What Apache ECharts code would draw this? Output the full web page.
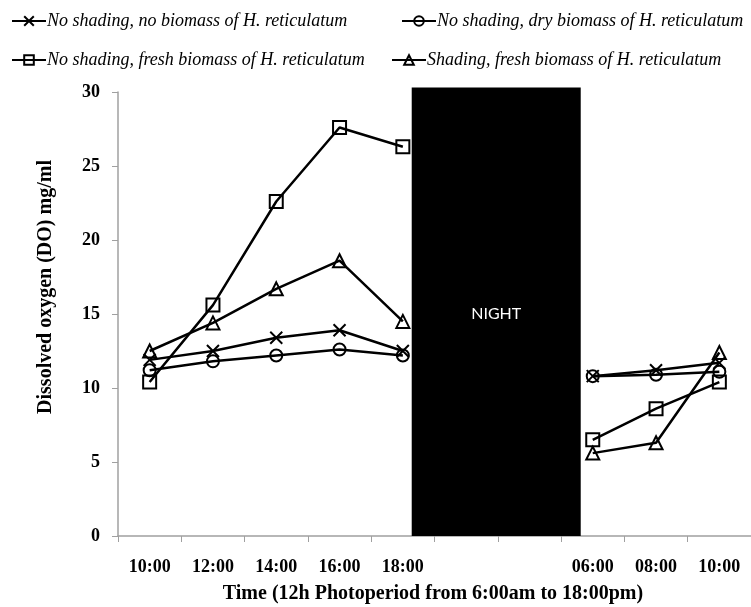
<!DOCTYPE html>
<html>
<head>
<meta charset="utf-8">
<script src="https://cdn.jsdelivr.net/npm/echarts@6/dist/echarts.min.js"></script>
<style>
html,body{margin:0;padding:0;background:#fff;}
#main{width:751px;height:607px;}
</style>
</head>
<body>
<div id="main"></div>
<script>
// x categories, blanks are the night gap
var times = ['10:00', '12:00', '14:00', '16:00', '18:00', '', '', '06:00', '08:00', '10:00'];
var noShadeNoBio = [11.9, 12.5, 13.4, 13.9, 12.5, null, null, 10.8, 11.2, 11.7];
var noShadeDryBio = [11.2, 11.8, 12.2, 12.6, 12.2, null, null, 10.8, 10.9, 11.1];
var noShadeFreshBio = [10.4, 15.6, 22.6, 27.6, 26.3, null, null, 6.5, 8.6, 10.4];
var shadeFreshBio = [12.5, 14.4, 16.7, 18.6, 14.5, null, null, 5.6, 6.3, 12.4];
var seriesNames = [
    'No shading, no biomass of H. reticulatum',
    'No shading, dry biomass of H. reticulatum',
    'No shading, fresh biomass of H. reticulatum',
    'Shading, fresh biomass of H. reticulatum'
];
// night block, in category index units [start, end, top]
var nightBlock = [[4.14, 6.81, 30.3]];

var serif = '"Liberation Serif", "Times New Roman", serif';

function lineSeries(name, data, symbol, size) {
    return {
        name: name,
        type: 'line',
        data: data,
        connectNulls: false,
        symbol: symbol,
        symbolSize: size,
        showAllSymbol: true,
        lineStyle: {color: '#000', width: 2.5},
        itemStyle: {color: 'transparent', borderColor: '#000', borderWidth: 2},
        z: 3
    };
}

function legendBox(name, left, top) {
    return {
        data: [name],
        left: left,
        top: top,
        itemWidth: 34,
        itemHeight: 12,
        itemGap: 0,
        textStyle: {fontFamily: serif, fontStyle: 'italic', fontSize: 18, color: '#000', padding: [0, 0, 0, -4]}
    };
}

var option = {
    backgroundColor: '#fff',
    animation: false,
    title: {
        text: 'Time (12h Photoperiod from 6:00am to 18:00pm)',
        left: 428,
        top: 579,
        textAlign: 'center',
        textStyle: {fontFamily: serif, fontWeight: 'bold', fontSize: 20, color: '#000'}
    },
    legend: [
        legendBox(seriesNames[0], 6, 7),
        legendBox(seriesNames[1], 396, 7),
        legendBox(seriesNames[2], 6, 46),
        legendBox(seriesNames[3], 386, 46)
    ],
    grid: {left: 118, top: 92, width: 640, height: 444},
    xAxis: [{
        type: 'category',
        data: times,
        boundaryGap: true,
        axisLine: {lineStyle: {color: '#a0a0a0', width: 1.5}},
        axisTick: {show: true, length: 6, interval: 0, lineStyle: {color: '#a0a0a0'}},
        axisLabel: {interval: 0, margin: 22, fontFamily: serif, fontWeight: 'bold', fontSize: 18, color: '#000'},
        splitLine: {show: false}
    }, {
        type: 'value',
        min: -0.5,
        max: 9.5,
        show: false
    }],
    yAxis: {
        type: 'value',
        min: 0,
        max: 30,
        interval: 5,
        name: 'Dissolved oxygen (DO) mg/ml',
        nameLocation: 'middle',
        nameGap: 62,
        nameTextStyle: {fontFamily: serif, fontWeight: 'bold', fontSize: 20, color: '#000', padding: [0, 0, 0, 54]},
        axisLine: {show: true, onZero: false, lineStyle: {color: '#a0a0a0', width: 1.5}},
        axisTick: {show: true, length: 6, lineStyle: {color: '#a0a0a0'}},
        axisLabel: {margin: 18, fontFamily: serif, fontWeight: 'bold', fontSize: 18, color: '#000'},
        splitLine: {show: false}
    },
    series: [
        {
            type: 'custom',
            xAxisIndex: 1,
            data: nightBlock,
            clip: false,
            z: 1,
            renderItem: function (params, api) {
                var p1 = api.coord([api.value(0), api.value(2)]);
                var p2 = api.coord([api.value(1), 0]);
                var mid = api.coord([(api.value(0) + api.value(1)) / 2, 15]);
                return {
                    type: 'group',
                    children: [{
                        type: 'rect',
                        shape: {x: p1[0], y: p1[1], width: p2[0] - p1[0], height: p2[1] - p1[1]},
                        style: {fill: '#000'}
                    }, {
                        type: 'text',
                        x: mid[0],
                        y: mid[1],
                        style: {text: 'NIGHT', fill: '#fff', fontFamily: 'Lato, "Noto Sans", sans-serif', fontSize: 16, align: 'center', verticalAlign: 'middle'}
                    }]
                };
            }
        },
        lineSeries(seriesNames[0], noShadeNoBio, 'path://M0,0L10,10M10,0L0,10', 12),
        lineSeries(seriesNames[1], noShadeDryBio, 'circle', 12),
        lineSeries(seriesNames[2], noShadeFreshBio, 'rect', 13),
        lineSeries(seriesNames[3], shadeFreshBio, 'triangle', 13)
    ]
};

var myChart = echarts.init(document.getElementById('main'));
myChart.setOption(option);
</script>
</body>
</html>
